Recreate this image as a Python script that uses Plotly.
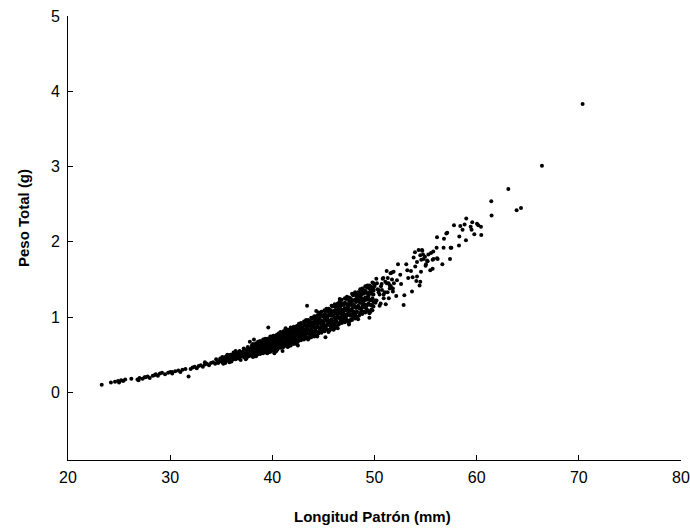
import plotly.graph_objects as go

# --- Data (Longitud Patrón mm, Peso Total g) ---
# small fish, sparse lower end
lp_a = [23.3, 24.2, 24.6, 24.9, 25.0, 25.2, 25.4, 25.6, 26.2, 26.8,
        27.0, 27.3, 27.5, 27.8, 28.0, 28.3, 28.5, 28.8, 29.0, 29.2,
        29.5, 29.8, 30.0, 30.2, 30.5, 30.8, 31.0, 31.2, 31.5, 31.8,
        32.0, 32.2, 32.4, 32.6, 32.8, 33.0, 33.2, 33.4, 33.6, 33.8,
        34.0, 34.2, 34.4, 34.6, 34.8, 26.9, 27.6, 28.6, 30.2, 33.4]
pt_a = [0.10, 0.13, 0.14, 0.15, 0.13, 0.16, 0.15, 0.17, 0.18, 0.17,
        0.19, 0.18, 0.20, 0.21, 0.19, 0.22, 0.23, 0.22, 0.25, 0.26,
        0.24, 0.26, 0.27, 0.25, 0.28, 0.29, 0.27, 0.30, 0.31, 0.21,
        0.31, 0.33, 0.34, 0.32, 0.35, 0.36, 0.34, 0.37, 0.38, 0.36,
        0.39, 0.40, 0.38, 0.42, 0.41, 0.16, 0.20, 0.24, 0.27, 0.40]

# 35 - 38 mm
lp_b = [35.0, 35.1, 35.2, 35.3, 35.4, 35.5, 35.6, 35.7, 35.8, 35.9,
        36.0, 36.1, 36.2, 36.3, 36.4, 36.5, 36.6, 36.7, 36.8, 36.9,
        37.0, 37.1, 37.2, 37.3, 37.4, 37.5, 37.6, 37.7, 37.8, 37.9,
        35.2, 35.6, 36.0, 36.4, 36.8, 37.2, 37.6, 38.0, 37.4, 36.6,
        37.8, 38.2, 34.9, 35.4, 36.2, 36.9, 37.5,
        34.5, 34.7, 34.9, 35.1, 35.3, 35.5, 35.7, 35.9, 36.1, 36.3,
        36.5, 36.7, 36.9, 37.1, 37.3, 37.5, 37.7, 37.9, 35.8, 36.4]
pt_b = [0.43, 0.40, 0.46, 0.44, 0.47, 0.42, 0.45, 0.49, 0.44, 0.47,
        0.46, 0.50, 0.44, 0.48, 0.52, 0.47, 0.49, 0.45, 0.51, 0.48,
        0.50, 0.54, 0.47, 0.52, 0.49, 0.56, 0.51, 0.48, 0.55, 0.53,
        0.38, 0.50, 0.41, 0.44, 0.55, 0.58, 0.60, 0.50, 0.44, 0.53,
        0.67, 0.70, 0.45, 0.39, 0.53, 0.43, 0.46,
        0.44, 0.39, 0.42, 0.47, 0.41, 0.48, 0.43, 0.50, 0.47, 0.52,
        0.45, 0.53, 0.50, 0.48, 0.57, 0.52, 0.58, 0.49, 0.40, 0.55]

# 38 - 44 mm (dense band), one length list and five weight rows
lp_c = [38.0, 38.1, 38.2, 38.3, 38.4, 38.5, 38.6, 38.7, 38.8, 38.9,
        39.0, 39.1, 39.2, 39.3, 39.4, 39.5, 39.6, 39.7, 39.8, 39.9,
        40.0, 40.1, 40.2, 40.3, 40.4, 40.5, 40.6, 40.7, 40.8, 40.9,
        41.0, 41.1, 41.2, 41.3, 41.4, 41.5, 41.6, 41.7, 41.8, 41.9,
        42.0, 42.1, 42.2, 42.3, 42.4, 42.5, 42.6, 42.7, 42.8, 42.9,
        43.0, 43.1, 43.2, 43.3, 43.4, 43.5, 43.6, 43.7, 43.8, 43.9]
pt_c1 = [0.62, 0.50, 0.58, 0.55, 0.63, 0.50, 0.62, 0.55, 0.68, 0.60,
         0.60, 0.70, 0.57, 0.66, 0.53, 0.69, 0.61, 0.65, 0.57, 0.73,
         0.74, 0.58, 0.68, 0.64, 0.74, 0.57, 0.72, 0.63, 0.80, 0.69,
         0.70, 0.81, 0.66, 0.76, 0.62, 0.80, 0.70, 0.76, 0.66, 0.85,
         0.85, 0.68, 0.79, 0.74, 0.85, 0.67, 0.84, 0.74, 0.92, 0.80,
         0.81, 0.94, 0.77, 0.89, 0.72, 0.93, 0.82, 0.88, 0.77, 0.98]
pt_c2 = [0.51, 0.59, 0.49, 0.63, 0.56, 0.59, 0.51, 0.66, 0.56, 0.64,
         0.65, 0.57, 0.69, 0.54, 0.64, 0.61, 0.70, 0.54, 0.68, 0.60,
         0.60, 0.70, 0.56, 0.74, 0.65, 0.69, 0.59, 0.78, 0.65, 0.75,
         0.76, 0.66, 0.81, 0.62, 0.74, 0.71, 0.82, 0.63, 0.79, 0.69,
         0.70, 0.81, 0.66, 0.86, 0.76, 0.81, 0.69, 0.90, 0.76, 0.87,
         0.88, 0.77, 0.94, 0.73, 0.86, 0.83, 0.95, 0.73, 0.92, 0.80]
pt_c3 = [0.56, 0.47, 0.62, 0.52, 0.60, 0.55, 0.67, 0.59, 0.51, 0.58,
         0.58, 0.52, 0.61, 0.71, 0.59, 0.66, 0.57, 0.70, 0.54, 0.65,
         0.66, 0.55, 0.73, 0.60, 0.70, 0.63, 0.78, 0.68, 0.59, 0.67,
         0.67, 0.60, 0.71, 0.83, 0.68, 0.76, 0.66, 0.81, 0.62, 0.76,
         0.76, 0.64, 0.84, 0.70, 0.81, 0.74, 0.91, 0.79, 0.69, 0.78,
         0.78, 0.70, 0.82, 0.96, 0.79, 0.88, 0.77, 0.94, 0.73, 0.88]
pt_c4 = [0.49, 0.64, 0.54, 0.60, 0.48, 0.64, 0.58, 0.53, 0.61, 0.56,
         0.56, 0.63, 0.55, 0.61, 0.69, 0.52, 0.67, 0.61, 0.74, 0.56,
         0.57, 0.75, 0.63, 0.71, 0.55, 0.75, 0.68, 0.61, 0.71, 0.64,
         0.65, 0.73, 0.63, 0.71, 0.81, 0.60, 0.78, 0.71, 0.86, 0.65,
         0.66, 0.87, 0.74, 0.82, 0.64, 0.88, 0.79, 0.71, 0.83, 0.75,
         0.75, 0.84, 0.74, 0.83, 0.94, 0.70, 0.90, 0.82, 0.99, 0.76]
pt_c5 = [0.59, 0.55, 0.51, 0.48, 0.65, 0.59, 0.54, 0.63, 0.65, 0.53,
         0.53, 0.67, 0.66, 0.57, 0.63, 0.71, 0.53, 0.58, 0.63, 0.69,
         0.69, 0.64, 0.60, 0.55, 0.76, 0.68, 0.63, 0.74, 0.76, 0.60,
         0.61, 0.78, 0.77, 0.66, 0.73, 0.83, 0.61, 0.67, 0.73, 0.80,
         0.80, 0.74, 0.70, 0.65, 0.88, 0.79, 0.73, 0.86, 0.88, 0.71,
         0.71, 0.90, 0.89, 0.77, 0.85, 0.96, 0.72, 0.78, 0.84, 0.92]

# 44 - 50 mm (dense band), one length list and five weight rows
lp_d = [44.0, 44.1, 44.2, 44.3, 44.4, 44.5, 44.6, 44.7, 44.8, 44.9,
        45.0, 45.1, 45.2, 45.3, 45.4, 45.5, 45.6, 45.7, 45.8, 45.9,
        46.0, 46.1, 46.2, 46.3, 46.4, 46.5, 46.6, 46.7, 46.8, 46.9,
        47.0, 47.1, 47.2, 47.3, 47.4, 47.5, 47.6, 47.7, 47.8, 47.9,
        48.0, 48.1, 48.2, 48.3, 48.4, 48.5, 48.6, 48.7, 48.8, 48.9,
        49.0, 49.1, 49.2, 49.3, 49.4, 49.5, 49.6, 49.7, 49.8, 49.9]
pt_d1 = [0.99, 0.79, 0.91, 0.86, 0.99, 0.78, 0.97, 0.85, 1.07, 0.93,
         0.94, 1.09, 0.88, 1.02, 0.83, 1.07, 0.94, 1.02, 0.89, 1.14,
         1.15, 0.91, 1.05, 0.99, 1.14, 0.90, 1.12, 0.98, 1.23, 1.07,
         1.08, 1.25, 1.01, 1.17, 0.95, 1.22, 1.08, 1.16, 1.02, 1.29,
         1.30, 1.03, 1.20, 1.13, 1.29, 1.02, 1.27, 1.11, 1.38, 1.21,
         1.22, 1.41, 1.15, 1.32, 1.08, 1.38, 1.22, 1.31, 1.15, 1.45]
pt_d2 = [0.81, 0.94, 0.76, 1.00, 0.88, 0.93, 0.80, 1.04, 0.87, 1.01,
         1.02, 0.89, 1.08, 0.84, 1.00, 0.95, 1.10, 0.85, 1.06, 0.93,
         0.94, 1.08, 0.88, 1.15, 1.02, 1.08, 0.92, 1.20, 1.01, 1.16,
         1.17, 1.03, 1.24, 0.96, 1.14, 1.09, 1.25, 0.97, 1.21, 1.06,
         1.07, 1.23, 1.00, 1.30, 1.15, 1.22, 1.05, 1.36, 1.14, 1.31,
         1.32, 1.16, 1.40, 1.09, 1.29, 1.23, 1.41, 1.10, 1.36, 1.20]
pt_d3 = [0.89, 0.74, 0.98, 0.81, 0.94, 0.86, 1.05, 0.92, 0.79, 0.90,
         0.90, 0.81, 0.95, 1.11, 0.91, 1.02, 0.89, 1.09, 0.84, 1.02,
         1.02, 0.85, 1.13, 0.94, 1.09, 0.99, 1.21, 1.05, 0.92, 1.03,
         1.04, 0.93, 1.09, 1.27, 1.05, 1.17, 1.02, 1.24, 0.96, 1.16,
         1.16, 0.98, 1.28, 1.07, 1.23, 1.12, 1.37, 1.19, 1.04, 1.17,
         1.17, 1.06, 1.23, 1.42, 1.18, 1.32, 1.16, 1.39, 1.09, 1.30]
pt_d4 = [0.77, 1.01, 0.85, 0.95, 0.74, 1.01, 0.91, 0.82, 0.95, 0.86,
         0.87, 0.98, 0.85, 0.96, 1.08, 0.80, 1.05, 0.95, 1.15, 0.88,
         0.88, 1.17, 0.98, 1.10, 0.85, 1.17, 1.05, 0.95, 1.10, 0.99,
         1.00, 1.12, 0.98, 1.10, 1.24, 0.92, 1.19, 1.09, 1.31, 1.00,
         1.01, 1.33, 1.12, 1.25, 0.97, 1.32, 1.19, 1.07, 1.24, 1.13,
         1.13, 1.26, 1.11, 1.24, 1.39, 1.05, 1.34, 1.23, 1.46, 1.14]
pt_d5 = [0.93, 0.86, 0.81, 0.75, 1.02, 0.92, 0.85, 1.00, 1.02, 0.81,
         0.82, 1.04, 1.03, 0.89, 0.98, 1.11, 0.82, 0.90, 0.97, 1.07,
         1.08, 0.99, 0.93, 0.87, 1.18, 1.06, 0.98, 1.15, 1.17, 0.94,
         0.95, 1.19, 1.18, 1.02, 1.12, 1.26, 0.95, 1.03, 1.11, 1.22,
         1.22, 1.13, 1.06, 0.99, 1.33, 1.20, 1.11, 1.30, 1.32, 1.07,
         1.07, 1.35, 1.33, 1.16, 1.27, 1.42, 1.07, 1.16, 1.25, 1.37]

# scattered points around the dense band
lp_e = [39.6, 41.3, 43.4, 44.3, 44.5, 41.0, 42.5, 40.2, 47.5, 46.0,
        49.5, 48.3, 48.8, 46.6, 45.2,
        50.0, 50.2, 50.4, 50.6, 50.8, 51.0, 51.2, 51.4, 51.6, 51.8,
        50.1, 50.3, 50.5, 50.7, 50.9, 51.1, 51.3, 51.5, 51.7, 51.9]
pt_e = [0.86, 0.85, 1.15, 1.08, 1.06, 0.55, 0.62, 0.52, 0.90, 0.83,
        0.99, 1.27, 1.36, 1.24, 0.73,
        1.42, 1.22, 1.36, 1.18, 1.51, 1.33, 1.45, 1.25, 1.41, 1.34,
        1.19, 1.37, 1.15, 1.44, 1.30, 1.17, 1.52, 1.38, 1.59, 1.45]

# 50 - 58 mm
lp_f = [52.30, 53.11, 53.21, 53.83, 54.16, 54.58, 54.32, 54.75, 55.20, 55.00,
        53.57, 53.99, 54.16, 54.55, 53.73, 52.52, 51.87, 52.20, 51.71, 51.06,
        51.38, 50.63, 50.24, 49.98, 49.59, 50.73, 51.28, 51.80, 50.50, 49.91,
        49.26, 48.93, 48.61, 48.77, 48.29, 50.90, 50.08, 54.09, 50.18, 50.86,
        51.19, 51.57, 53.67, 52.92, 52.85, 52.13, 53.96, 54.48, 54.68, 55.53,
        56.18, 55.69, 55.46, 54.48, 54.41, 56.64, 57.39, 54.65, 55.75, 55.27,
        56.12, 55.78, 56.12, 56.80, 57.03, 57.12, 56.76, 56.08, 57.45, 54.94,
        54.80, 55.14, 55.04, 55.69, 52.60, 53.30, 51.50, 50.40]
pt_f = [1.70, 1.70, 1.62, 1.79, 1.73, 1.76, 1.89, 1.83, 1.74, 1.68,
        1.61, 1.67, 1.54, 1.60, 1.53, 1.56, 1.60, 1.49, 1.50, 1.47,
        1.45, 1.41, 1.45, 1.41, 1.37, 1.36, 1.33, 1.38, 1.30, 1.35,
        1.32, 1.36, 1.30, 1.25, 1.27, 1.25, 1.22, 1.48, 1.51, 1.52,
        1.61, 1.58, 1.34, 1.29, 1.16, 1.28, 1.86, 1.82, 1.88, 1.85,
        1.77, 1.76, 1.62, 1.47, 1.42, 1.70, 1.77, 1.89, 1.87, 1.83,
        1.78, 1.77, 2.06, 2.04, 2.11, 2.12, 1.92, 1.92, 1.92, 1.80,
        1.77, 1.75, 1.70, 1.64, 1.44, 1.52, 1.42, 1.33]

# largest fish
lp_g = [70.37, 66.39, 63.10, 61.43, 61.46, 63.91, 64.34, 58.98, 57.78, 58.40,
        58.82, 58.62, 59.41, 59.57, 59.50, 60.03, 60.16, 60.42, 59.77, 60.45,
        58.95, 58.30, 58.27, 57.52]
pt_g = [3.83, 3.01, 2.70, 2.54, 2.35, 2.42, 2.45, 2.31, 2.22, 2.21,
        2.23, 2.16, 2.20, 2.26, 2.16, 2.24, 2.22, 2.20, 2.10, 2.09,
        2.02, 2.07, 1.95, 1.92]

x_ticks = [20, 30, 40, 50, 60, 70, 80]
y_ticks = [0, 1, 2, 3, 4, 5]
x_title = "Longitud Patrón (mm)"
y_title = "Peso Total (g)"

longitud = (lp_a + lp_b + lp_c * 5 + lp_d * 5 + lp_e + lp_f + lp_g)
peso = (pt_a + pt_b + pt_c1 + pt_c2 + pt_c3 + pt_c4 + pt_c5
        + pt_d1 + pt_d2 + pt_d3 + pt_d4 + pt_d5 + pt_e + pt_f + pt_g)

FONT = "Liberation Sans, Arial, sans-serif"

fig = go.Figure(go.Scatter(
    x=longitud, y=peso, mode="markers",
    marker=dict(size=4, color="black", line=dict(width=0)),
    showlegend=False, hoverinfo="x+y"))

fig.update_layout(
    width=690, height=531, autosize=False,
    margin=dict(l=68, r=9, t=16, b=71, autoexpand=False),
    paper_bgcolor="white", plot_bgcolor="white",
    font=dict(family=FONT, size=15, color="black"),
    annotations=[
        dict(text="<b>%s</b>" % x_title, xref="paper", yref="paper",
             x=0.496, y=-0.128, xanchor="center", yanchor="middle",
             showarrow=False, font=dict(family=FONT, size=15, color="black")),
        dict(text="<b>%s</b>" % y_title, xref="paper", yref="paper",
             x=-0.0734, y=0.545, xanchor="center", yanchor="middle",
             textangle=-90, showarrow=False,
             font=dict(family=FONT, size=15, color="black")),
    ],
)
fig.update_xaxes(
    range=[20, 80], tickvals=x_ticks, ticktext=[str(v) for v in x_ticks],
    showgrid=False, zeroline=False, showline=True, linecolor="black",
    linewidth=1, ticks="inside", ticklen=5, tickcolor="black",
    ticklabelstandoff=3, automargin=False,
    tickfont=dict(family=FONT, size=16, color="black"))
fig.update_yaxes(
    range=[-0.9, 5], tickvals=y_ticks, ticktext=[str(v) for v in y_ticks],
    showgrid=False, zeroline=False, showline=True, linecolor="black",
    linewidth=1, ticks="inside", ticklen=5, tickcolor="black",
    ticklabelstandoff=4, automargin=False,
    tickfont=dict(family=FONT, size=16, color="black"))

fig.write_html("out.html", config={"responsive": False},
               default_width="690px", default_height="531px")
